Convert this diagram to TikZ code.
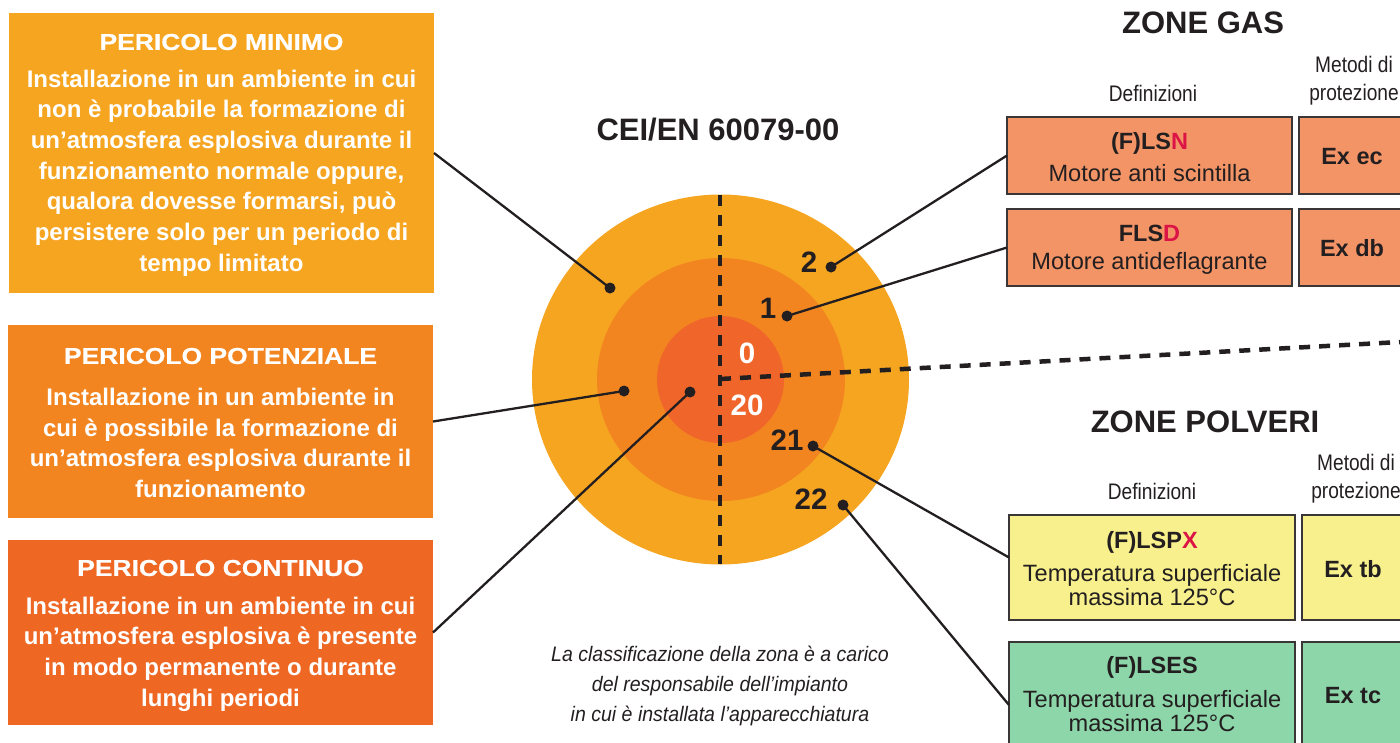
\documentclass[tikz,border=0pt]{standalone}
\usepackage{fontspec}
\setmainfont{Liberation Sans}
\newfontfamily\widefont[FakeStretch=1.15,FakeBold=0.6]{Liberation Sans}
\newfontfamily\narrowfont[FakeStretch=0.85]{Liberation Sans}
\newfontfamily\italfont[FakeStretch=0.93]{Liberation Sans}
\definecolor{cOuter}{HTML}{F6A521}
\definecolor{cMid}{HTML}{F38520}
\definecolor{cInner}{HTML}{F0652A}
\definecolor{cBoxC}{HTML}{EE6723}
\definecolor{cGas}{HTML}{F39466}
\definecolor{cYel}{HTML}{F7F08C}
\definecolor{cGreen}{HTML}{8DD6A9}
\definecolor{cRed}{HTML}{DC1446}
\definecolor{cDark}{HTML}{231F20}
\definecolor{cBorder}{HTML}{3A3637}
\tikzset{
  lbox/.style={rectangle, draw=none, inner sep=0pt, outer sep=0pt},
  ltitle/.style={text=white, font=\widefont\bfseries\fontsize{23}{28}\selectfont, inner sep=0pt},
  lbody/.style={text=white, align=center, font=\bfseries\fontsize{24}{30.67}\selectfont, inner sep=0pt},
  rbox/.style={rectangle, draw=cBorder, line width=1.3pt, inner sep=0pt, outer sep=0pt},
  rtitle/.style={text=cDark, font=\bfseries\fontsize{23.5}{28}\selectfont, inner sep=0pt},
  rbody/.style={text=cDark, align=center, font=\fontsize{23.6}{23.5}\selectfont, inner sep=0pt},
  exlab/.style={text=cDark, font=\bfseries\fontsize{23.5}{28}\selectfont, inner sep=0pt},
  head/.style={text=cDark, font=\bfseries\fontsize{31}{36}\selectfont, inner sep=0pt},
  colhead/.style={text=cDark, align=center, font=\narrowfont\fontsize{22.5}{28}\selectfont, inner sep=0pt},
  znum/.style={text=cDark, font=\bfseries\fontsize{29.5}{32}\selectfont, inner sep=0pt},
  pdot/.style={circle, fill=cDark, inner sep=0pt, minimum size=11pt},
  conn/.style={draw=cDark, line width=2.3pt},
  dline/.style={draw=cDark, line width=4.5pt, dash pattern=on 11pt off 9pt}
}
\begin{document}
\begin{tikzpicture}[x=1pt,y=-1pt]
\useasboundingbox (0,0) rectangle (1400,742);
\clip (0,0) rectangle (1400,742);
% left boxes
\node[lbox, fill=cOuter, minimum width=425pt, minimum height=280pt] (b1) at (221.5,153) {};
\node[ltitle] (b1t) at (221.5,42) {PERICOLO MINIMO};
\node[lbody] (b1b) at (221.5,173) {Installazione in un ambiente in cui\\non è probabile la formazione di\\un’atmosfera esplosiva durante il\\funzionamento normale oppure,\\qualora dovesse formarsi, può\\persistere solo per un periodo di\\tempo limitato};
\node[lbox, fill=cMid, minimum width=425pt, minimum height=193pt] (b2) at (220.5,421.5) {};
\node[ltitle] (b2t) at (220.5,356) {PERICOLO POTENZIALE};
\node[lbody] (b2b) at (220.5,443) {Installazione in un ambiente in\\cui è possibile la formazione di\\un’atmosfera esplosiva durante il\\funzionamento};
\node[lbox, fill=cBoxC, minimum width=425pt, minimum height=185pt] (b3) at (220.5,632.5) {};
\node[ltitle] (b3t) at (220.5,568) {PERICOLO CONTINUO};
\node[lbody] (b3b) at (220.5,654) {Installazione in un ambiente in cui\\un’atmosfera esplosiva è presente\\in modo permanente o durante\\lunghi periodi};
% target
\fill[cOuter] (720.5,379.5) ellipse [x radius=188.5pt, y radius=185pt];
\fill[cMid] (721,379.5) ellipse [x radius=124pt, y radius=121.5pt];
\fill[cInner] (720.5,379.5) circle [radius=63.5pt];
\coordinate (vt) at (720,195);
\coordinate (vb) at (720,564);
\coordinate (hc) at (720,379);
\coordinate (he) at (1400,342);
\draw[dline] (vt) -- (vb);
\draw[dline] (hc) -- (he);
\node[head] (cei) at (718,130) {CEI/EN 60079-00};
\node[znum] (n2) at (809,262) {2};
\node[znum] (n1) at (768,308) {1};
\node[znum, text=white] (n0) at (747,353) {0};
\node[znum, text=white] (n20) at (747,405) {20};
\node[znum] (n21) at (787,440) {21};
\node[znum] (n22) at (811,499) {22};
\node[pdot] (p2) at (831,267) {};
\node[pdot] (p1) at (787,316) {};
\node[pdot] (p21) at (813,446) {};
\node[pdot] (p22) at (843,505) {};
\node[pdot] (pa) at (610,288) {};
\node[pdot] (pb) at (624,391) {};
\node[pdot] (pc) at (690,392) {};
% italic note
\node[text=cDark, align=center, font=\italfont\itshape\fontsize{21}{30}\selectfont, inner sep=0pt] (note) at (720,686) {La classificazione della zona è a carico\\del responsabile dell’impianto\\in cui è installata l’apparecchiatura};
% right: gas
\node[head] (zg) at (1203,23) {ZONE GAS};
\node[colhead] (dg) at (1153,93) {Definizioni};
\node[colhead] (mg) at (1354,81) {Metodi di\\protezione};
\node[rbox, fill=cGas, minimum width=285pt, minimum height=77pt] (gN) at (1149.5,155.5) {};
\node[rbox, fill=cGas, minimum width=111pt, minimum height=77pt] (eN) at (1354.5,155.5) {};
\node[rtitle] (gNt) at (1149.5,143) {(F)LS\textcolor{cRed}{N}};
\node[rbody] (gNb) at (1149.5,173) {Motore anti scintilla};
\node[exlab] (eNt) at (1352,157) {Ex ec};
\node[rbox, fill=cGas, minimum width=285pt, minimum height=77pt] (gD) at (1149.5,247.5) {};
\node[rbox, fill=cGas, minimum width=111pt, minimum height=77pt] (eD) at (1354.5,247.5) {};
\node[rtitle] (gDt) at (1149.5,233) {FLS\textcolor{cRed}{D}};
\node[rbody] (gDb) at (1149.5,263) {Motore antideflagrante};
\node[exlab] (eDt) at (1352,248) {Ex db};
% right: dust
\node[head] (zp) at (1205,422) {ZONE POLVERI};
\node[colhead] (dp) at (1152,491) {Definizioni};
\node[colhead] (mp) at (1356,479) {Metodi di\\protezione};
\node[rbox, fill=cYel, minimum width=286pt, minimum height=105pt] (pX) at (1152,567.5) {};
\node[rbox, fill=cYel, minimum width=108pt, minimum height=105pt] (eX) at (1356,567.5) {};
\node[rtitle] (pXt) at (1152,542) {(F)LSP\textcolor{cRed}{X}};
\node[rbody] (pXb) at (1152,585) {Temperatura superficiale\\massima 125°C};
\node[exlab] (eXt) at (1353,569) {Ex tb};
\node[rbox, fill=cGreen, minimum width=286pt, minimum height=118pt] (pS) at (1152,701) {};
\node[rbox, fill=cGreen, minimum width=108pt, minimum height=118pt] (eS) at (1356,701) {};
\node[rtitle] (pSt) at (1152,667) {(F)LSES};
\node[rbody] (pSb) at (1152,711) {Temperatura superficiale\\massima 125°C};
\node[exlab] (eSt) at (1353,696) {Ex tc};
% connectors
\draw[conn] (b1.east) -- (pa.center);
\draw[conn] (b2.east) -- (pb.center);
\draw[conn] (b3.east) -- (pc.center);
\draw[conn] (p2.center) -- (gN.west);
\draw[conn] (p1.center) -- (gD.west);
\draw[conn] (p21.center) -- ([yshift=10pt]pX.west);
\draw[conn] (p22.center) -- ([yshift=-4pt]pS.west);
\end{tikzpicture}
\end{document}
